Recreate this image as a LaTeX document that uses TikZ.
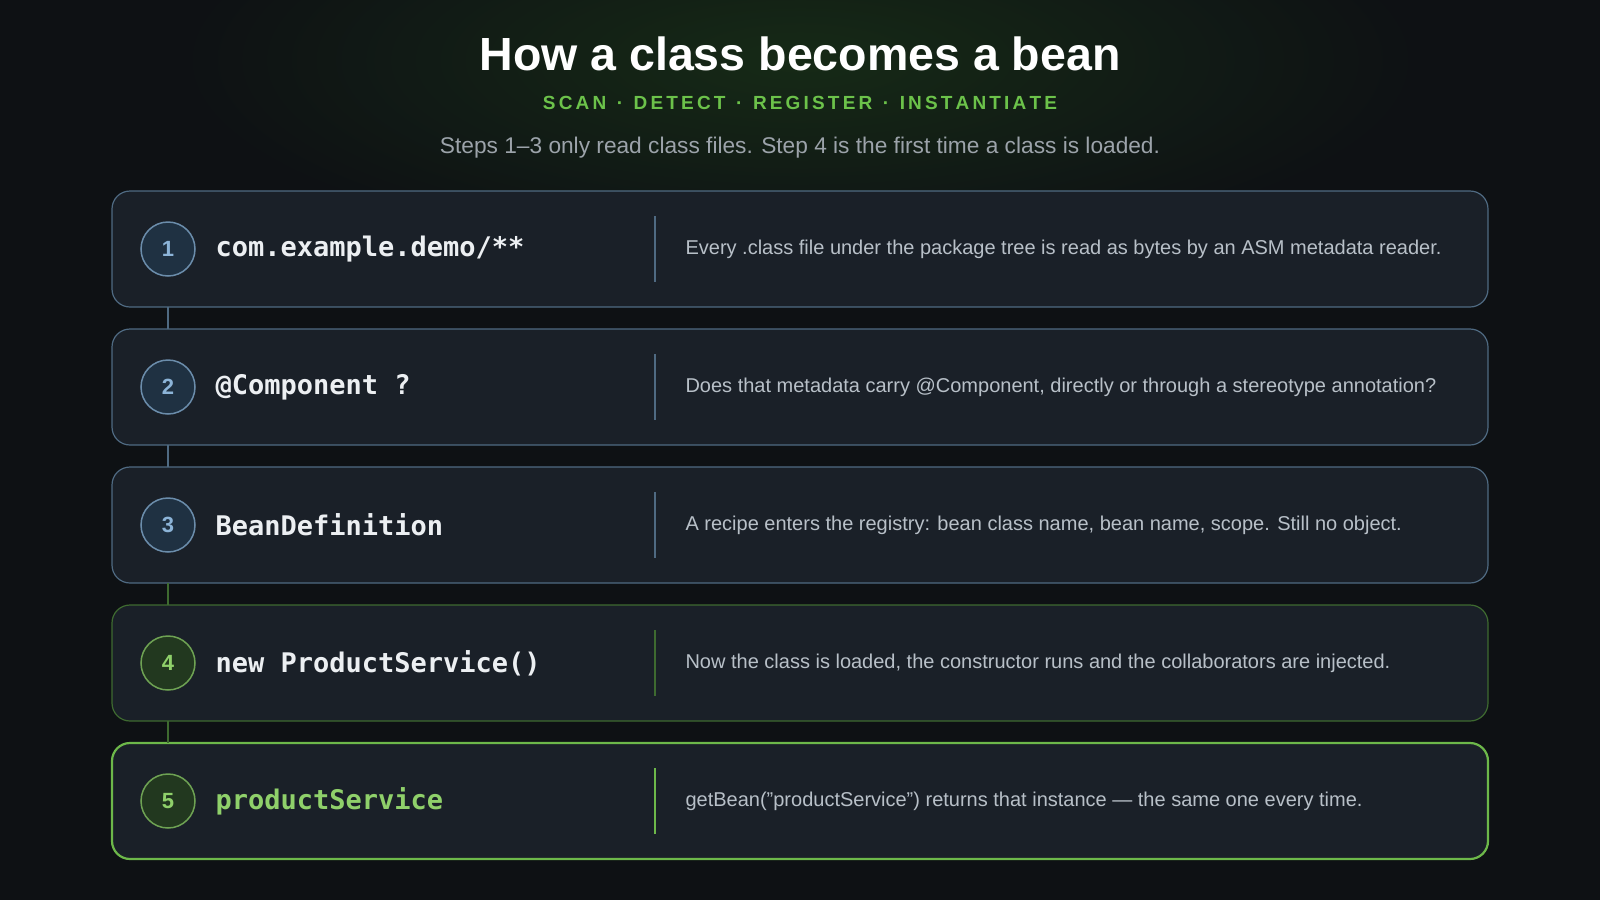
\documentclass[tikz,border=0pt]{standalone}
\usepackage{fontspec}
\setmainfont{Liberation Sans}
\setmonofont{DejaVu Sans Mono}
\begin{document}
\begin{tikzpicture}[x=1pt,y=-1pt,
  box/.style={draw=#1, line width=1.2pt, rounded corners=18pt, fill=cardbg},
  num/.style={circle, minimum size=54pt, inner sep=0pt, line width=1.5pt, font=\bfseries\fontsize{22}{22}\selectfont},
  code/.style={anchor=west, font=\ttfamily\bfseries\fontsize{27}{27}\selectfont, text=codew},
  desc/.style={anchor=west, font=\fontsize{20}{20}\selectfont, text=descc},
  link/.style={line width=2pt}]
\definecolor{bg}{HTML}{0E1114}
\definecolor{cardbg}{HTML}{1A2028}
\definecolor{blueb}{HTML}{4F6A82}
\definecolor{bluec}{HTML}{1F3142}
\definecolor{bluet}{HTML}{8CB4D8}
\definecolor{greenb}{HTML}{3E6A30}
\definecolor{greenc}{HTML}{22381F}
\definecolor{greent}{HTML}{8FD06A}
\definecolor{greenh}{HTML}{6DB84A}
\definecolor{codew}{HTML}{ECEFF2}
\definecolor{descc}{HTML}{B8C0C8}
\definecolor{sub}{HTML}{6CC24A}
\useasboundingbox (0,0) rectangle (1600,900);
\clip (0,0) rectangle (1600,900);
\fill[bg] (0,0) rectangle (1600,900);
\shade[inner color={rgb,255:red,22;green,42;blue,22}, outer color=bg] (800,60) ellipse (620 and 200);
\fill[bg] (0,200) rectangle (1600,900);
\node (title) at (800,54) {\bfseries\fontsize{46.5}{46.5}\selectfont\color{white} How a class becomes a bean};
\node (sub) at (800,103) {\bfseries\fontsize{19}{19}\selectfont\color{sub} S\,C\,A\,N \ · \ D\,E\,T\,E\,C\,T \ · \ R\,E\,G\,I\,S\,T\,E\,R \ · \ I\,N\,S\,T\,A\,N\,T\,I\,A\,T\,E};
\node (cap) at (800,148) {\fontsize{22.7}{22.7}\selectfont\color{descc!85!black} Steps 1–3 only read class files. Step 4 is the first time a class is loaded.};
\foreach \i/\bc/\cc/\tc/\lw/\codec/\code/\d in {
 1/blueb/bluec/bluet/1.2/codew/{com.example.demo/**}/{Every .class file under the package tree is read as bytes by an ASM metadata reader.},
 2/blueb/bluec/bluet/1.2/codew/{@Component ?}/{Does that metadata carry @Component, directly or through a stereotype annotation?},
 3/blueb/bluec/bluet/1.2/codew/{BeanDefinition}/{A recipe enters the registry: bean class name, bean name, scope. Still no object.},
 4/greenb/greenc/greent/1.2/codew/{new ProductService()}/{Now the class is loaded, the constructor runs and the collaborators are injected.},
 5/greenh/greenc/greent/2.2/greent/{productService}/{getBean(\char34 productService\char34) returns that instance — the same one every time.}}{
  \pgfmathsetmacro{\yy}{249+138*(\i-1)}
  \draw[box=\bc, line width=\lw pt] (112,\yy-58) rectangle (1488,\yy+58);
  \node[num, draw=\tc!70!\cc, fill=\cc, text=\tc] (n\i) at (168,\yy) {\i};
  \node[code, text=\codec] (c\i) at (212,\yy) {\code};
  \draw[\bc, line width=1.2pt] (655,\yy-33) -- (655,\yy+33);
  \node[desc] (d\i) at (682,\yy) {\d};
  \coordinate (t\i) at (168,\yy-58);
  \coordinate (b\i) at (168,\yy+58);
}
\draw[link, blueb] (b1) -- (t2);
\draw[link, blueb] (b2) -- (t3);
\draw[link, greenb] (b3) -- (t4);
\draw[link, greenb] (b4) -- (t5);
\end{tikzpicture}
\end{document}
